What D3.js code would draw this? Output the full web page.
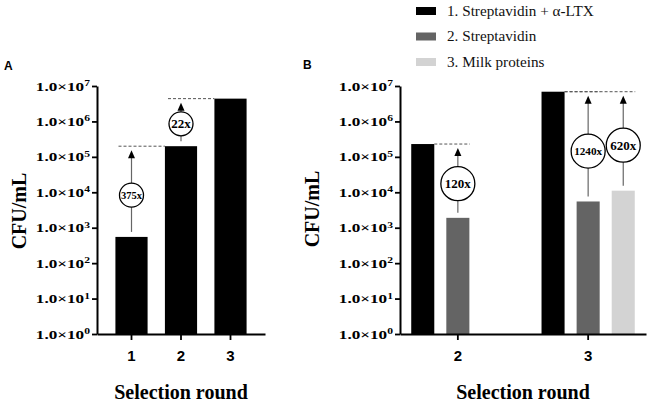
<!DOCTYPE html>
<html><head><meta charset="utf-8">
<script src="https://cdn.jsdelivr.net/npm/d3@7"></script>
<style>body{margin:0;background:#fff}</style>
</head><body><svg id="c" width="651" height="406"></svg>
<script>
// ---- data ----
const roundsA = ["1", "2", "3"];
const valuesA = [550, 200000, 4400000];
const roundsB = ["2", "3"];
const seriesNames = ["1. Streptavidin + α-LTX", "2. Streptavidin", "3. Milk proteins"];
const seriesColors = ["#000000", "#646464", "#d3d3d3"];
const valuesB1 = [230000, 6900000];
const valuesB2 = [1900, 5500];
const valuesB3 = [null, 11100];
const yTickValues = [1, 10, 100, 1000, 1e4, 1e5, 1e6, 1e7];
const yTickExponents = ["0", "1", "2", "3", "4", "5", "6", "7"];
const foldA = [{from: "1", ref: "2", label: "375x"}, {from: "2", ref: "3", label: "22x"}];
const foldB = [{round: "2", series: 1, label: "120x"}, {round: "3", series: 1, label: "1240x"}, {round: "3", series: 2, label: "620x"}];

const serif = '"Liberation Serif","Times New Roman",serif';
const sans = '"Liberation Sans",Arial,sans-serif';
const svg = d3.select("#c");

const y = d3.scaleLog().domain([1, 1e7]).range([334, 86]);

function yAxis(axX, titleX, titleY) {
  const g = svg.append("g").attr("transform", `translate(${axX},0)`)
    .call(d3.axisLeft(y).tickValues(yTickValues).tickFormat("").tickSize(5).tickSizeOuter(0));
  g.select(".domain").attr("stroke-width", 2).attr("stroke", "#000");
  g.selectAll(".tick line").attr("stroke-width", 1.8).attr("stroke", "#000");
  yTickValues.forEach((v, i) => {
    const t = svg.append("g").attr("transform", `translate(${axX - 7},${y(v)}) scale(1.29,1)`)
      .append("text").attr("text-anchor", "end").attr("dy", "0.34em")
      .attr("font-family", serif).attr("font-weight", "bold").attr("font-size", 13.3).attr("fill", "#000");
    t.append("tspan").text("1.0×10");
    t.append("tspan").attr("font-size", 9).attr("dy", -4.5).text(yTickExponents[i]);
  });
  svg.append("text").attr("transform", `translate(${titleX},${titleY}) rotate(-90)`)
    .attr("text-anchor", "middle").attr("dy", "0.35em")
    .attr("font-family", serif).attr("font-weight", "bold").attr("font-size", 20).text("CFU/mL");
}

function xAxis(scale, title) {
  const g = svg.append("g").attr("transform", "translate(0,334)")
    .call(d3.axisBottom(scale).tickSize(6).tickSizeOuter(0));
  g.select(".domain").attr("stroke-width", 2).attr("stroke", "#000");
  g.selectAll(".tick line").attr("stroke-width", 1.8).attr("stroke", "#000");
  g.selectAll(".tick text").attr("y", 16).attr("dy", "0.71em")
    .attr("font-family", sans).attr("font-weight", "bold").attr("font-size", 15).attr("fill", "#000");
  const r = scale.range();
  svg.append("text").attr("x", (r[0] + r[1]) / 2).attr("y", 399).attr("text-anchor", "middle")
    .attr("font-family", serif).attr("font-weight", "bold").attr("font-size", 20).text(title);
}

function annotation(x, yBase, yRef, dashFrom, dashTo, label, r, maxW) {
  const tip = yRef + 4;
  const start = yBase - 5;
  svg.append("line").attr("x1", dashFrom).attr("x2", dashTo).attr("y1", yRef).attr("y2", yRef)
    .attr("stroke", "#555").attr("stroke-width", 1).attr("stroke-dasharray", "3,2");
  svg.append("line").attr("x1", x).attr("x2", x).attr("y1", start).attr("y2", tip + 7)
    .attr("stroke", "#666").attr("stroke-width", 1.2);
  svg.append("path").attr("d", `M${x},${tip}L${x - 3.5},${tip + 8}L${x + 3.5},${tip + 8}Z`).attr("fill", "#000");
  const cy = start - 0.45 * (start - tip);
  svg.append("circle").attr("cx", x).attr("cy", cy).attr("r", r)
    .attr("fill", "#fff").attr("stroke", "#000").attr("stroke-width", 1.3);
  const t = svg.append("text").attr("x", x).attr("y", cy).attr("dy", "0.35em").attr("text-anchor", "middle")
    .attr("font-family", serif).attr("font-weight", "bold").attr("font-size", 13).text(label);
  const w = t.node().getComputedTextLength();
  if (w > maxW) t.attr("font-size", 13 * maxW / w);
}

// ---- Panel A ----
const xA = d3.scaleBand().domain(roundsA).range([97, 265]).paddingInner(0.35).paddingOuter(0.372);
svg.selectAll(".barA").data(roundsA).join("rect")
  .attr("x", d => xA(d)).attr("width", xA.bandwidth())
  .attr("y", (d, i) => y(valuesA[i])).attr("height", (d, i) => y(1) - y(valuesA[i]))
  .attr("fill", seriesColors[0]);
yAxis(97, 18.5, 211);
xAxis(xA, "Selection round");
foldA.forEach(f => {
  const i = roundsA.indexOf(f.from), j = roundsA.indexOf(f.ref);
  const x = xA(f.from) + xA.bandwidth() / 2;
  annotation(x, y(valuesA[i]), y(valuesA[j]), x - 13, xA(f.ref), f.label, 12, 21);
});
svg.append("text").attr("x", 4).attr("y", 70).attr("font-family", sans).attr("font-weight", "bold")
  .attr("font-size", 12).text("A");

// ---- Panel B ----
const seriesB = [valuesB1, valuesB2, valuesB3];
const x0 = d3.scaleBand().domain(roundsB).range([400, 646]).paddingInner(0.192).paddingOuter(0.04);
const x1 = d3.scaleBand().domain([0, 1, 2]).range([0, x0.bandwidth()]).paddingInner(0.343).paddingOuter(0.1715);
const barsB = [];
roundsB.forEach((r, ri) => seriesB.forEach((vals, si) => {
  if (vals[ri] != null) barsB.push({r, si, v: vals[ri]});
}));
svg.selectAll(".barB").data(barsB).join("rect")
  .attr("x", d => x0(d.r) + x1(d.si)).attr("width", x1.bandwidth())
  .attr("y", d => y(d.v)).attr("height", d => y(1) - y(d.v))
  .attr("fill", d => seriesColors[d.si]);
yAxis(400, 312, 209);
xAxis(x0, "Selection round");
foldB.forEach(f => {
  const ri = roundsB.indexOf(f.round);
  const x = x0(f.round) + x1(f.series) + x1.bandwidth() / 2;
  const refRight = x0(f.round) + x1(0) + x1.bandwidth();
  annotation(x, y(seriesB[f.series][ri]), y(seriesB[0][ri]), refRight, x + 12, f.label, 17, 28);
});
svg.append("text").attr("x", 303).attr("y", 69).attr("font-family", sans).attr("font-weight", "bold")
  .attr("font-size", 12).text("B");

// ---- Legend ----
seriesNames.forEach((n, i) => {
  const cy = 11 + i * 25.5;
  svg.append("rect").attr("x", 416).attr("y", cy - 4).attr("width", 20).attr("height", 8).attr("fill", seriesColors[i]);
  svg.append("text").attr("x", 447).attr("y", cy + 4.5).attr("font-family", serif)
    .attr("font-size", 15.2).attr("fill", "#111").text(n);
});
</script></body></html>
